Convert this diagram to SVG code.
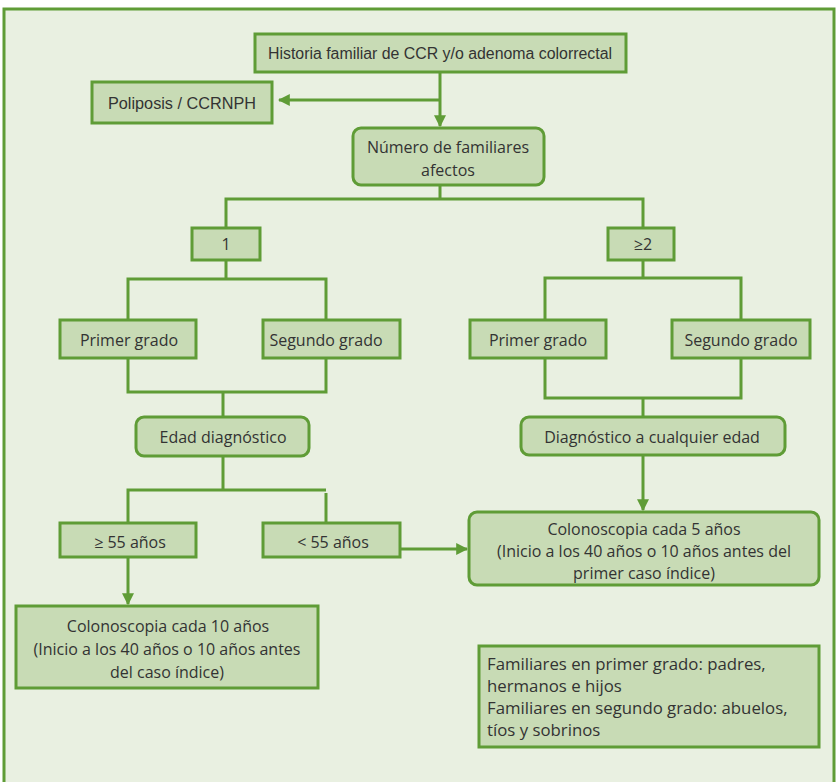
<svg xmlns="http://www.w3.org/2000/svg" width="836" height="782" viewBox="0 0 836 782">
<defs>
<style>
.bg{fill:#e9f0e1;stroke:#5f9c36;stroke-width:3}
.n{fill:#c8dbb5;stroke:#5f9c36;stroke-width:3}
.c{fill:none;stroke:#5f9c36;stroke-width:3}
text{font-family:"Open Sans",Lato,"Liberation Sans",sans-serif;font-size:16px;fill:#333;text-anchor:middle}
.l{text-anchor:start;font-size:16.8px}
.cond{font-family:"Liberation Sans Narrow","Liberation Sans",sans-serif;font-size:16px}
</style>
<marker id="ah" viewBox="0 0 10 10" refX="9" refY="5" markerWidth="4" markerHeight="4" orient="auto" markerUnits="strokeWidth">
<path d="M0,0 L10,5 L0,10 Z" fill="#5f9c36"/>
</marker>
</defs>
<rect class="bg" x="4" y="9" width="830" height="790"/>
<g id="connectors">
<path class="c" d="M440,72 V126" marker-end="url(#ah)"/>
<path class="c" d="M440,100 H279" marker-end="url(#ah)"/>
<path class="c" d="M440,185 V199 M226,228 V199 H643 V228"/>
<path class="c" d="M226,260 V279 M128,320 V279 H326 V320"/>
<path class="c" d="M128,358 V392 H326 V358 M223,392 V417"/>
<path class="c" d="M223,456 V490 M128,523 V490 H326 M326,493 V523"/>
<path class="c" d="M128,557 V604" marker-end="url(#ah)"/>
<path class="c" d="M400,549 H467" marker-end="url(#ah)"/>
<path class="c" d="M643,260 V278 M545,320 V278 H741 V320"/>
<path class="c" d="M545,358 V398 H741 V358 M643,398 V417"/>
<path class="c" d="M643,455 V510" marker-end="url(#ah)"/>
</g>
<g id="historia"><rect class="n" x="255" y="34" width="371" height="38"/><text class="cond" x="440" y="59" textLength="344" lengthAdjust="spacingAndGlyphs">Historia familiar de CCR y/o adenoma colorrectal</text></g>
<g id="poliposis"><rect class="n" x="92" y="82" width="180" height="41"/><text class="cond" x="182" y="109" font-size="17" textLength="148" lengthAdjust="spacingAndGlyphs">Poliposis / CCRNPH</text></g>
<g id="numero"><rect class="n" x="353" y="128" width="191" height="57" rx="8"/><text x="448" y="153">Número de familiares</text><text x="448" y="176">afectos</text></g>
<g id="uno"><rect class="n" x="192" y="228" width="68" height="32"/><text x="226" y="250" font-size="14">1</text></g>
<g id="dos"><rect class="n" x="608" y="228" width="66" height="32"/><text x="643" y="250" font-size="14">≥2</text></g>
<g id="primer1"><rect class="n" x="60" y="320" width="136" height="38"/><text x="129" y="346">Primer grado</text></g>
<g id="segundo1"><rect class="n" x="263" y="320" width="137" height="38"/><text x="326" y="346">Segundo grado</text></g>
<g id="primer2"><rect class="n" x="470" y="320" width="136" height="38"/><text x="538" y="346">Primer grado</text></g>
<g id="segundo2"><rect class="n" x="672" y="320" width="138" height="38"/><text x="741" y="346">Segundo grado</text></g>
<g id="edad"><rect class="n" x="136" y="417" width="173" height="39" rx="8"/><text x="223" y="443">Edad diagnóstico</text></g>
<g id="diagnostico"><rect class="n" x="521" y="417" width="264" height="38" rx="8"/><text x="652" y="443">Diagnóstico a cualquier edad</text></g>
<g id="mayor55"><rect class="n" x="60" y="523" width="136" height="34"/><text x="130" y="548">≥ 55 años</text></g>
<g id="menor55"><rect class="n" x="263" y="523" width="137" height="34"/><text x="333" y="548">&lt; 55 años</text></g>
<g id="colo10"><rect class="n" x="16" y="606" width="302" height="82"/><text x="168" y="632">Colonoscopia cada 10 años</text><text x="167" y="655">(Inicio a los 40 años o 10 años antes</text><text x="167" y="678">del caso índice)</text></g>
<g id="colo5"><rect class="n" x="469" y="512" width="350" height="73" rx="8"/><text x="644" y="535">Colonoscopia cada 5 años</text><text x="644" y="557">(Inicio a los 40 años o 10 años antes del</text><text x="644" y="579">primer caso índice)</text></g>
<g id="leyenda"><rect class="n" x="479" y="646" width="340" height="101"/><text class="l" x="487" y="670">Familiares en primer grado: padres,</text><text class="l" x="487" y="692">hermanos e hijos</text><text class="l" x="487" y="714">Familiares en segundo grado: abuelos,</text><text class="l" x="487" y="736">tíos y sobrinos</text></g>
</svg>
